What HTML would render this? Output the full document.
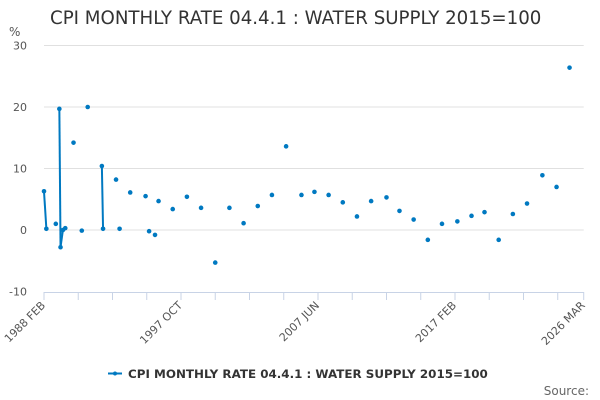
<!DOCTYPE html>
<html><head><meta charset="utf-8">
<style>
body{margin:0;background:#fff;}
svg{display:block;font-family:"DejaVu Sans","Liberation Sans",sans-serif;}
</style></head>
<body>
<svg id="chart" width="600" height="400" viewBox="0 0 600 400">
<text x="50" y="24" font-size="18.2" fill="#333">CPI MONTHLY RATE 04.4.1 : WATER SUPPLY 2015=100</text>
<text x="9" y="36" font-size="12" fill="#555">%</text>
<g id="grid"></g>
<g id="xaxis"></g>
<g id="series"></g>
<g>
<line x1="108" y1="373.5" x2="122" y2="373.5" stroke="#0079c1" stroke-width="2"/>
<circle cx="115" cy="373.5" r="2" fill="#0079c1"/>
<text x="128" y="378" font-size="11.9" font-weight="bold" fill="#333">CPI MONTHLY RATE 04.4.1 : WATER SUPPLY 2015=100</text>
</g>
<text x="589" y="395" font-size="12" fill="#666" text-anchor="end">Source:</text>
</svg>
<script>
const dates=["1988-02","1988-04","1988-12","1989-03","1989-04","1989-06","1989-08","1990-03","1990-10","1991-03","1992-03","1992-04","1993-03","1993-06","1994-03","1995-04","1995-07","1995-12","1996-03","1997-03","1998-03","1999-03","2000-03","2001-03","2002-03","2003-03","2004-03","2005-03","2006-04","2007-03","2008-03","2009-03","2010-03","2011-03","2012-04","2013-03","2014-03","2015-03","2016-03","2017-04","2018-04","2019-03","2020-03","2021-03","2022-03","2023-04","2024-04","2025-03"];
const values=[6.3,0.2,1.0,19.7,-2.8,0.0,0.3,14.2,-0.1,20.0,10.4,0.2,8.2,0.2,6.1,5.5,-0.2,-0.8,4.7,3.4,5.4,3.6,-5.3,3.6,1.1,3.9,5.7,13.6,5.7,6.2,5.7,4.5,2.2,4.7,5.3,3.1,1.7,-1.6,1.0,1.4,2.3,2.9,-1.6,2.6,4.3,8.9,7.0,26.4];
const yTicks=[-10,0,10,20,30];
const xLabels=["1988 FEB","1997 OCT","2007 JUN","2017 FEB","2026 MAR"];

const NS="http://www.w3.org/2000/svg";
const X0=44,PXM=1.181,Y0=230,PXU=6.15;
function mIdx(d){const [y,m]=d.split("-").map(Number);return (y-1988)*12+(m-2);}
function xs(d){return X0+mIdx(d)*PXM;}
function ys(v){return Y0-v*PXU;}
function mk(t,a,p){const e=document.createElementNS(NS,t);for(const k in a)e.setAttribute(k,a[k]);p.appendChild(e);return e;}
const grid=document.getElementById("grid"),xa=document.getElementById("xaxis"),ser=document.getElementById("series");
const xEnd=xs("2026-03");
yTicks.forEach(v=>{
  if(v!==-10){const l=mk("line",{x1:X0,x2:xEnd,y1:ys(v),y2:ys(v),stroke:"#e0e0e0","stroke-width":1},grid);
  
  }
  const t=mk("text",{x:27,y:ys(v)+4,"font-size":11,fill:"#555","text-anchor":"end"},grid);
  t.textContent=v;
  
  
});
const ax=mk("line",{x1:X0,x2:xEnd,y1:292.5,y2:292.5,stroke:"#c8d3e6","stroke-width":1},xa);


for(let m=0;m<=mIdx("2026-03");m+=29){const x=X0+m*PXM;const tk=mk("line",{x1:x,x2:x,y1:292,y2:300,stroke:"#c8d3e6"},xa);

}
const tkEnd=mk("line",{x1:xEnd,x2:xEnd,y1:292,y2:300,stroke:"#c8d3e6"},xa);


const labelMonths=[0,116,232,348,mIdx("2026-03")];
xLabels.forEach((s,i)=>{const x=X0+labelMonths[i]*PXM+2;
  const t=mk("text",{x:x,y:306,"font-size":11,fill:"#555","text-anchor":"end",transform:`rotate(-45 ${x} 306)`},xa);
  t.textContent=s;
  
  
});
for(let i=1;i<dates.length;i++){
  if(mIdx(dates[i])-mIdx(dates[i-1])<=2){
    const l=mk("line",{x1:xs(dates[i-1]),y1:ys(values[i-1]),x2:xs(dates[i]),y2:ys(values[i]),stroke:"#0079c1","stroke-width":2},ser);
    
    
  }
}
dates.forEach((d,i)=>{
  const c=mk("circle",{cx:xs(d),cy:ys(values[i]),r:2.3,fill:"#0079c1"},ser);
  
  
});
</script>
</body></html>
